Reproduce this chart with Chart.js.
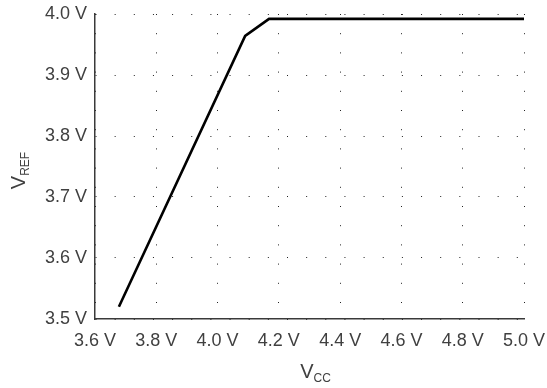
<!DOCTYPE html>
<html>
<head>
<meta charset="utf-8">
<script src="https://cdn.jsdelivr.net/npm/chart.js@4"></script>
<style>
  html, body { margin: 0; padding: 0; background: #fff; }
  #wrap { position: relative; width: 547px; height: 388px; }
</style>
</head>
<body>
<div id="wrap"><canvas id="vrefChart"></canvas></div>
<script>
    // data
    const vcc = [3.678, 4.09, 4.168, 5.0];
    const vref = [3.52, 3.964, 3.992, 3.992];
    const xTicks = [3.6, 3.8, 4.0, 4.2, 4.4, 4.6, 4.8, 5.0];
    const yTicks = [3.5, 3.6, 3.7, 3.8, 3.9, 4.0];

    const textColor = '#404040';
    const fontFamily = '"Liberation Sans", Arial, Helvetica, sans-serif';

    // axis titles with subscripts (V_CC, V_REF)
    function drawSub(ctx, main, sub, x, y) {
        ctx.font = '20px ' + fontFamily;
        ctx.fillText(main, x, y);
        const w = ctx.measureText(main).width;
        ctx.font = '12px ' + fontFamily;
        ctx.fillText(sub, x + w, y + 4);
    }
    function subWidth(ctx, main, sub) {
        ctx.font = '20px ' + fontFamily;
        const a = ctx.measureText(main).width;
        ctx.font = '12px ' + fontFamily;
        return a + ctx.measureText(sub).width;
    }

    const axisTitles = {
        id: 'axisTitles',
        afterDraw(chart) {
            const { ctx, chartArea } = chart;
            ctx.save();
            ctx.fillStyle = textColor;
            ctx.textBaseline = 'alphabetic';
            ctx.textAlign = 'left';
            const cx = (chartArea.left + chartArea.right) / 2 + 6;
            drawSub(ctx, 'V', 'CC', cx - subWidth(ctx, 'V', 'CC') / 2, 377.5);

            const cy = (chartArea.top + chartArea.bottom) / 2 + 4;
            ctx.translate(25, cy);
            ctx.rotate(-Math.PI / 2);
            drawSub(ctx, 'V', 'REF', -subWidth(ctx, 'V', 'REF') / 2, 0);
            ctx.restore();
        }
    };

    const ctx = document.getElementById('vrefChart').getContext('2d');
    new Chart(ctx, {
        type: 'line',
        data: {
            datasets: [{
                data: vcc.map((x, i) => ({ x: x, y: vref[i] })),
                borderColor: '#000',
                borderWidth: 2.6,
                pointRadius: 0,
                tension: 0,
                fill: false
            }]
        },
        options: {
            animation: false,
            responsive: true,
            maintainAspectRatio: false,
            layout: { padding: { top: 14, right: 23, left: 0, bottom: 0 } },
            plugins: { legend: { display: false }, tooltip: { enabled: false } },
            scales: {
                x: {
                    type: 'linear', min: 3.6, max: 5.0,
                    afterBuildTicks: s => { s.ticks = xTicks.map(v => ({ value: v })); },
                    afterFit: s => { s.height = 69; s.paddingLeft = 0; s.paddingRight = 0; },
                    grid: { color: '#222', lineWidth: 1, drawTicks: false },
                    border: { display: true, color: '#3a3a3a', width: 1.5, dash: [1, 18.2] },
                    ticks: {
                        padding: 11, color: textColor, maxRotation: 0,
                        font: { size: 18, family: fontFamily },
                        callback: v => v.toFixed(1) + ' V'
                    }
                },
                y: {
                    type: 'linear', min: 3.5, max: 4.0,
                    afterBuildTicks: s => { s.ticks = yTicks.map(v => ({ value: v })); },
                    afterFit: s => { s.width = 95; s.paddingTop = 0; s.paddingBottom = 0; },
                    grid: { color: '#222', lineWidth: 1, drawTicks: false },
                    border: { display: true, color: '#3a3a3a', width: 1.5, dash: [1, 18.15] },
                    ticks: {
                        padding: 8, color: textColor,
                        font: { size: 18, family: fontFamily },
                        callback: v => v.toFixed(1) + ' V'
                    }
                }
            }
        },
        plugins: [axisTitles]
    });
</script>
</body>
</html>
